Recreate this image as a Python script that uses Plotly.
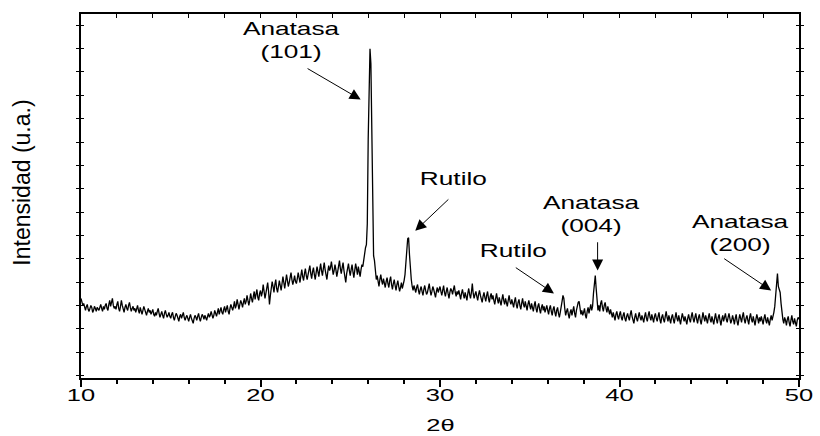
import plotly.graph_objects as go

# Step scan: 10-50 deg 2-theta, 0.05 deg per step
start_angle = 10.0
step = 0.05

# Intensity (a.u.), one row per degree (20 steps each)
intensity_10_20 = [
    80, 77, 73, 75, 71, 68, 72, 74, 69, 67, 70, 73, 71, 66, 68, 72, 70, 67, 71, 69,
    68, 71, 74, 70, 67, 72, 69, 73, 75, 70, 68, 74, 78, 72, 76, 80, 73, 70, 72, 69,
    74, 77, 70, 67, 72, 78, 73, 69, 66, 71, 74, 70, 68, 73, 76, 71, 67, 70, 72, 68,
    70, 66, 69, 73, 68, 65, 71, 67, 64, 68, 72, 69, 66, 63, 67, 70, 66, 68, 64, 67,
    69, 64, 62, 66, 63, 67, 70, 65, 61, 64, 67, 63, 60, 65, 68, 64, 61, 63, 66, 62,
    60, 64, 66, 61, 58, 62, 65, 63, 59, 57, 62, 64, 60, 63, 66, 61, 58, 61, 63, 60,
    57, 61, 64, 60, 58, 55, 60, 63, 61, 58, 62, 65, 60, 57, 61, 64, 62, 59, 63, 61,
    58, 62, 65, 61, 63, 67, 64, 60, 63, 68, 65, 62, 66, 70, 64, 67, 71, 66, 64, 69,
    72, 66, 69, 73, 67, 64, 70, 74, 71, 68, 72, 77, 70, 73, 79, 72, 69, 74, 78, 75,
    71, 76, 80, 74, 77, 83, 79, 73, 78, 85, 80, 76, 82, 87, 79, 83, 89, 81, 78, 85,
]
intensity_20_30 = [
    88, 82, 86, 94, 89, 80, 85, 91, 96, 87, 74, 83, 90, 97, 92, 86, 94, 99, 90, 86,
    92, 98, 93, 88, 95, 102, 96, 90, 97, 104, 98, 92, 96, 101, 106, 99, 94, 98, 103, 97,
    95, 100, 106, 101, 96, 103, 109, 102, 98, 105, 110, 103, 99, 104, 108, 113, 105, 100, 107, 111,
    104, 99, 106, 112, 107, 102, 109, 115, 108, 103, 110, 116, 109, 104, 99, 107, 113, 108, 111, 117,
    110, 104, 108, 114, 109, 102, 107, 113, 118, 110, 105, 111, 116, 108, 101, 96, 105, 112, 115, 108,
    103, 109, 114, 107, 101, 108, 115, 110, 104, 112, 106, 102, 109, 114, 112, 118, 128, 131, 134, 155,
    240, 315, 331, 316, 235, 142, 123, 118, 106, 99, 103, 96, 92, 99, 104, 98, 94, 100, 96, 91,
    97, 101, 95, 91, 98, 102, 94, 89, 95, 99, 93, 88, 94, 98, 92, 87, 91, 96, 90, 93,
    98, 104, 113, 128, 140, 141, 124, 108, 99, 92, 88, 93, 90, 86, 91, 94, 88, 84, 89, 92,
    87, 83, 89, 93, 88, 84, 86, 91, 95, 88, 83, 87, 92, 89, 85, 81, 87, 91, 86, 89,
]
intensity_30_40 = [
    92, 87, 83, 88, 93, 86, 82, 87, 91, 85, 80, 86, 90, 88, 84, 89, 93, 86, 82, 87,
    84, 88, 83, 79, 85, 89, 84, 80, 86, 82, 78, 85, 90, 84, 80, 86, 95, 85, 80, 84,
    87, 82, 78, 84, 88, 83, 79, 76, 82, 86, 81, 77, 83, 87, 80, 76, 82, 85, 79, 83,
    78, 74, 80, 85, 79, 75, 81, 77, 73, 79, 84, 78, 74, 80, 76, 72, 78, 83, 77, 74,
    79, 75, 71, 77, 81, 74, 70, 76, 79, 73, 69, 75, 80, 74, 71, 77, 72, 68, 74, 78,
    73, 69, 75, 71, 67, 73, 77, 70, 66, 72, 75, 69, 65, 71, 74, 68, 72, 66, 70, 73,
    68, 64, 70, 73, 67, 63, 69, 72, 66, 62, 68, 71, 65, 61, 66, 70, 77, 83, 80, 70,
    63, 67, 70, 64, 60, 66, 69, 63, 67, 72, 65, 61, 68, 73, 76, 77, 70, 64, 68, 63,
    66, 70, 63, 60, 67, 71, 65, 69, 74, 68, 72, 85, 100, 103, 90, 76, 68, 73, 67, 75,
    78, 71, 67, 73, 76, 70, 66, 72, 68, 64, 69, 65, 61, 66, 63, 58, 64, 67, 62, 59,
]
intensity_40_50 = [
    64, 67, 61, 58, 63, 66, 60, 57, 62, 65, 61, 58, 64, 68, 62, 59, 55, 61, 65, 60,
    57, 62, 66, 61, 58, 63, 60, 56, 62, 66, 60, 57, 63, 67, 61, 58, 64, 60, 56, 62,
    65, 60, 57, 62, 66, 59, 55, 61, 64, 59, 56, 62, 67, 61, 57, 63, 60, 55, 61, 64,
    59, 55, 61, 66, 60, 57, 63, 59, 54, 60, 65, 61, 57, 62, 58, 54, 60, 64, 59, 56,
    62, 66, 60, 56, 61, 65, 59, 55, 61, 64, 58, 54, 60, 66, 61, 57, 63, 59, 55, 61,
    65, 59, 56, 62, 58, 54, 60, 65, 59, 55, 61, 64, 58, 53, 59, 63, 57, 61, 65, 59,
    56, 61, 65, 60, 55, 58, 63, 59, 54, 60, 64, 57, 53, 59, 64, 60, 56, 62, 66, 59,
    55, 60, 63, 58, 54, 61, 65, 59, 56, 62, 58, 53, 59, 64, 60, 55, 61, 57, 62, 58,
    54, 60, 64, 58, 55, 61, 57, 53, 59, 63, 58, 61, 66, 72, 85, 98, 105, 92, 88, 86,
    75, 64, 59, 55, 61, 58, 53, 59, 62, 56, 52, 58, 63, 57, 54, 60, 56, 52, 58, 61,
    59,
]

intensity = intensity_10_20 + intensity_20_30 + intensity_30_40 + intensity_40_50
two_theta = [round(start_angle + i * step, 2) for i in range(len(intensity))]

# Phase labels and their arrows (2-theta, intensity)
peak_labels = ["Anatasa<br>(101)", "Rutilo", "Rutilo", "Anatasa<br>(004)", "Anatasa<br>(200)"]
label_xy = [(21.71, 339), (30.77, 200), (34.09, 128), (38.40, 164), (46.74, 145.5)]
arrow_tail = [(22.54, 312), (30.55, 181), (34.14, 112), (38.78, 138), (45.75, 121)]
arrow_head = [(25.58, 280), (28.62, 148), (36.35, 85), (38.78, 108), (48.45, 88)]

FONT = "Liberation Sans, Arial, sans-serif"

fig = go.Figure()
fig.add_trace(go.Scatter(
    x=two_theta, y=intensity, mode="lines",
    line=dict(color="black", width=1.3), showlegend=False, hoverinfo="x+y",
))
# empty trace so the top tick axis is drawn
fig.add_trace(go.Scatter(x=[], y=[], xaxis="x2", yaxis="y", showlegend=False))

annotations = [
    dict(text="Intensidad (u.a.)", textangle=-90, xref="paper", yref="paper",
         x=-0.0815, y=0.538, xanchor="center", yanchor="middle", showarrow=False,
         font=dict(family=FONT, size=23, color="black")),
    dict(text="2θ", xref="paper", yref="paper", x=0.5, y=-0.131,
         xanchor="center", yanchor="middle", showarrow=False,
         font=dict(family=FONT, size=17, color="black")),
]
for txt, (lx, ly) in zip(peak_labels, label_xy):
    annotations.append(dict(
        text=txt, x=lx, y=ly, xref="x", yref="y", xanchor="center", yanchor="middle",
        showarrow=False, align="center", font=dict(family=FONT, size=17.5, color="black"),
    ))
for (tx, ty), (hx, hy) in zip(arrow_tail, arrow_head):
    annotations.append(dict(
        text="", x=hx, y=hy, ax=tx, ay=ty, xref="x", yref="y", axref="x", ayref="y",
        showarrow=True, arrowhead=2, arrowsize=2.2, arrowwidth=1, arrowcolor="black",
        standoff=0, startstandoff=0, font=dict(size=1),
    ))

fig.update_layout(
    width=820, height=436, autosize=False,
    margin=dict(l=81, r=15, t=12, b=58),
    paper_bgcolor="white", plot_bgcolor="white",
    showlegend=False,
    annotations=annotations,
    xaxis=dict(
        range=[10, 50], tick0=10, dtick=10, ticks="outside", ticklen=7, tickwidth=1.5,
        tickcolor="black", showline=True, linecolor="black", linewidth=1.5, mirror=True,
        showgrid=False, zeroline=False,
        tickfont=dict(family=FONT, size=17, color="black"),
        minor=dict(dtick=2, ticks="outside", ticklen=4, tickwidth=1.5, tickcolor="black"),
    ),
    xaxis2=dict(
        overlaying="x", side="top", range=[10, 50], tick0=10, dtick=10,
        ticks="inside", ticklen=4, tickwidth=1.2, tickcolor="black",
        showticklabels=False, showline=False, showgrid=False, zeroline=False,
        minor=dict(dtick=2, ticks="inside", ticklen=4, tickwidth=1.2, tickcolor="black"),
    ),
    yaxis=dict(
        range=[0, 366], tick0=2.3, dtick=23.5, ticks="inside", ticklen=3, tickwidth=1.2,
        tickcolor="black", showticklabels=False, showline=True, linecolor="black",
        linewidth=1.5, mirror="allticks", showgrid=False, zeroline=False,
    ),
)

# Widen the label glyphs horizontally about their own centres;
# tick labels also sit a little closer to the axis
stretch_js = """
var gd = document.getElementById('{plot_id}');
var SX = 1.5;
function stretchX(el, dy){
  var b = el.getBBox();
  var cx = b.x + b.width / 2;
  var t = el.getAttribute('transform') || '';
  el.setAttribute('transform', (t + ' matrix(' + SX + ',0,0,1,' + (cx * (1 - SX)) + ',' + dy + ')').trim());
}
gd.querySelectorAll('g.annotation').forEach(function(g){
  if (g.getAttribute('data-index') === '0') return;
  g.querySelectorAll('text.annotation-text').forEach(function(el){ stretchX(el, 0); });
});
gd.querySelectorAll('g.xtick text').forEach(function(el){ stretchX(el, -6); });
"""

fig.write_html("out.html", post_script=stretch_js)
